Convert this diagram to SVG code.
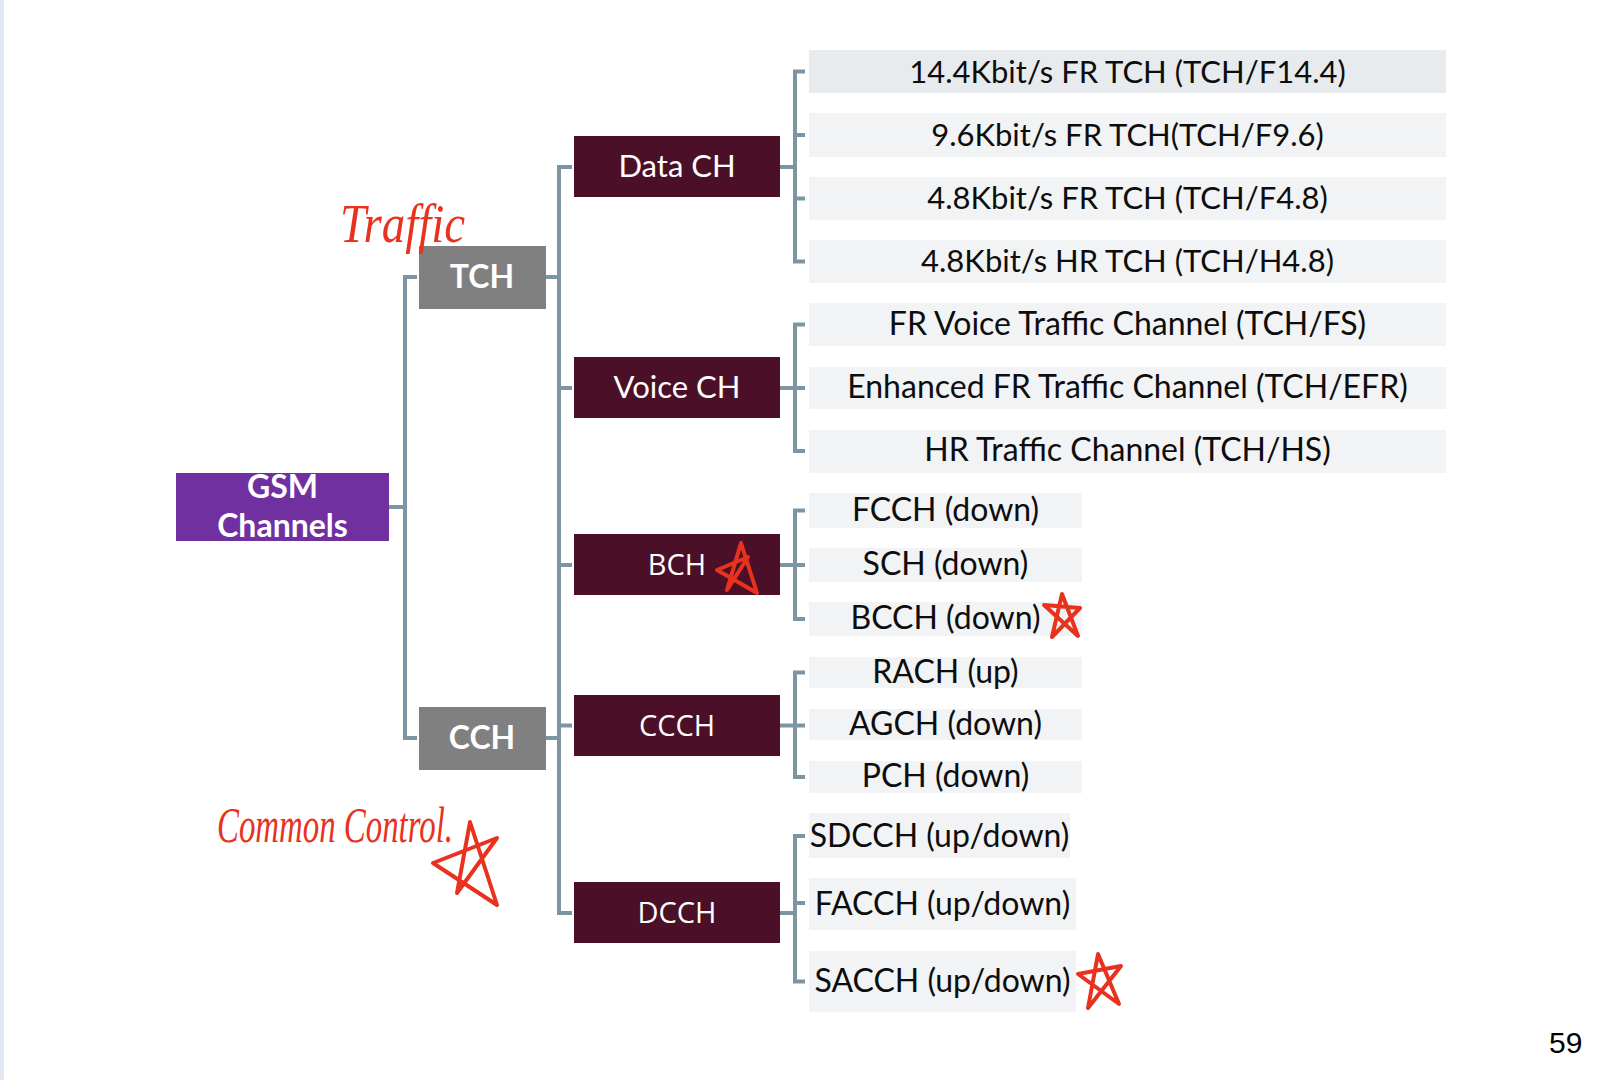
<svg xmlns="http://www.w3.org/2000/svg" width="1602" height="1080" viewBox="0 0 1602 1080">
<style>
.bg{fill:#ffffff}
.strip{fill:#e2e8f1}
.root{fill:#7030a0}
.mid{fill:#808080}
.dark{fill:#4b1027}
.leaf{fill:#f1f3f5}
.leaf1{fill:#e7ebee}
.wb{font-family:Lato,"Open Sans",sans-serif;font-weight:bold;font-size:32px;fill:#ffffff;text-anchor:middle}
.wr{font-family:Lato,"Open Sans",sans-serif;font-size:31px;fill:#ffffff;text-anchor:middle}
.wo{font-family:"Open Sans",Lato,sans-serif;font-size:29px;fill:#ffffff;text-anchor:middle}
.lt{font-family:Lato,"Liberation Sans",sans-serif;font-size:32px;fill:#0d0d0d;text-anchor:middle}
.lt.n{font-size:31px}
.conn{fill:none;stroke:#7b95a3;stroke-width:4}
.hand{font-family:"Liberation Serif",serif;font-style:italic;fill:#e8321e}
.star{fill:none;stroke:#e8321e;stroke-width:4;stroke-linejoin:round;stroke-linecap:round}
.pg{font-family:"Liberation Sans",Arial,sans-serif;font-size:30px;fill:#000000}
</style>
<rect class="bg" x="0" y="0" width="1602" height="1080"/>
<rect class="strip" x="0" y="0" width="4" height="1080"/>

<g id="connectors">
<path class="conn" d="M389 507H405M417 277H405V738H417"/>
<path class="conn" d="M545 277H559M572 167H559V913H572M559 388H572M545 738H559M559 725.5H572M559 565H572"/>
<path class="conn" d="M780 167H795M805 71.5H795V261.5H805M795 135H805M795 198.5H805"/>
<path class="conn" d="M780 388H795M805 324.5H795V451H805M795 388H805"/>
<path class="conn" d="M780 565H795M805 510.5H795V619H805M795 565H805"/>
<path class="conn" d="M780 725.5H795M805 672.5H795V777H805M795 725.5H805"/>
<path class="conn" d="M780 913H795M805 836H795V981.5H805M795 903H805"/>
</g>

<g id="gsm">
<rect class="root" x="176" y="473" width="213" height="68"/>
<text class="wb" x="282.5" y="498">GSM</text>
<text class="wb" x="282.5" y="537">Channels</text>
</g>
<g id="tch">
<rect class="mid" x="419" y="246" width="127" height="63"/>
<text class="wb" x="482" y="288">TCH</text>
</g>
<g id="cch">
<rect class="mid" x="419" y="707" width="127" height="63"/>
<text class="wb" x="482" y="749">CCH</text>
</g>

<g id="data-ch">
<rect class="dark" x="574" y="136" width="206" height="61"/>
<text class="wr" x="677" y="177">Data CH</text>
</g>
<g id="voice-ch">
<rect class="dark" x="574" y="357" width="206" height="61"/>
<text class="wr" x="677" y="398">Voice CH</text>
</g>
<g id="bch">
<rect class="dark" x="574" y="534" width="206" height="61"/>
<text class="wo" x="677" y="575">BCH</text>
</g>
<g id="ccch">
<rect class="dark" x="574" y="695" width="206" height="61"/>
<text class="wo" x="677" y="736">CCCH</text>
</g>
<g id="dcch">
<rect class="dark" x="574" y="882" width="206" height="61"/>
<text class="wo" x="677" y="923">DCCH</text>
</g>

<g id="tch-f144">
<rect class="leaf1" x="809" y="50" width="637" height="43"/>
<text class="lt n" x="1127.5" y="83">14.4Kbit/s FR TCH (TCH/F14.4)</text>
</g>
<g id="tch-f96">
<rect class="leaf" x="809" y="113" width="637" height="44"/>
<text class="lt n" x="1127.5" y="146">9.6Kbit/s FR TCH(TCH/F9.6)</text>
</g>
<g id="tch-f48">
<rect class="leaf" x="809" y="177" width="637" height="43"/>
<text class="lt n" x="1127.5" y="209">4.8Kbit/s FR TCH (TCH/F4.8)</text>
</g>
<g id="tch-h48">
<rect class="leaf" x="809" y="240" width="637" height="43"/>
<text class="lt n" x="1127.5" y="272">4.8Kbit/s HR TCH (TCH/H4.8)</text>
</g>
<g id="tch-fs">
<rect class="leaf" x="809" y="303" width="637" height="43"/>
<text class="lt" x="1127.5" y="335">FR Voice Traffic Channel (TCH/FS)</text>
</g>
<g id="tch-efr">
<rect class="leaf" x="809" y="367" width="637" height="42"/>
<text class="lt" x="1127.5" y="398">Enhanced FR Traffic Channel (TCH/EFR)</text>
</g>
<g id="tch-hs">
<rect class="leaf" x="809" y="430" width="637" height="43"/>
<text class="lt" x="1127.5" y="461">HR Traffic Channel (TCH/HS)</text>
</g>

<g id="fcch">
<rect class="leaf" x="809" y="493" width="273" height="35"/>
<text class="lt" x="945.5" y="521">FCCH (down)</text>
</g>
<g id="sch">
<rect class="leaf" x="809" y="548" width="273" height="34"/>
<text class="lt" x="945.5" y="575">SCH (down)</text>
</g>
<g id="bcch">
<rect class="leaf" x="809" y="602" width="273" height="34"/>
<text class="lt" x="945.5" y="629">BCCH (down)</text>
</g>
<g id="rach">
<rect class="leaf" x="809" y="657" width="273" height="31"/>
<text class="lt" x="945.5" y="683">RACH (up)</text>
</g>
<g id="agch">
<rect class="leaf" x="809" y="709" width="273" height="31"/>
<text class="lt" x="945.5" y="735">AGCH (down)</text>
</g>
<g id="pch">
<rect class="leaf" x="809" y="761" width="273" height="32"/>
<text class="lt" x="945.5" y="787">PCH (down)</text>
</g>
<g id="sdcch">
<rect class="leaf" x="809" y="813" width="261" height="45"/>
<text class="lt" x="939.5" y="847">SDCCH (up/down)</text>
</g>
<g id="facch">
<rect class="leaf" x="809" y="878" width="267" height="52"/>
<text class="lt" x="942.5" y="915">FACCH (up/down)</text>
</g>
<g id="sacch">
<rect class="leaf" x="809" y="951" width="267" height="61"/>
<text class="lt" x="942.5" y="992">SACCH (up/down)</text>
</g>

<g id="annotations">
<text class="hand" x="340" y="242" font-size="54" textLength="125" lengthAdjust="spacingAndGlyphs">Traffic</text>
<text class="hand" x="217" y="842" font-size="50" textLength="236" lengthAdjust="spacingAndGlyphs">Common Control.</text>
<path class="star" d="M457 893L470 822L497 905L433 863L497 838L457 893"/>
<path class="star" d="M727 590L741 543L757 593L717 570L748 557L727 590"/>
<path class="star" d="M1052 637L1062 594L1078 636L1044 605L1080 608L1052 637"/>
<path class="star" d="M1088 1008L1098 954L1119 1004L1078 974L1121 966L1088 1008"/>
</g>

<text class="pg" x="1549" y="1053">59</text>
</svg>
